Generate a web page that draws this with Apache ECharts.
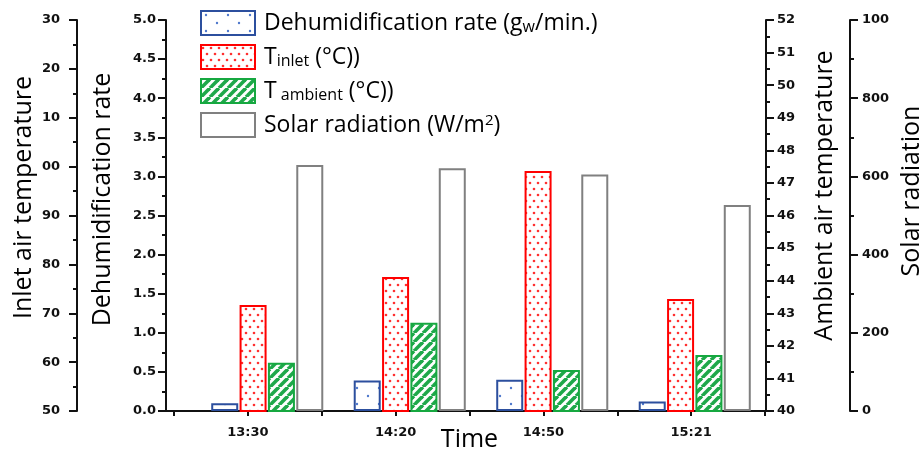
<!DOCTYPE html>
<html>
<head>
<meta charset="utf-8">
<script src="https://cdn.jsdelivr.net/npm/echarts@6/dist/echarts.min.js"></script>
<style>
  html, body { margin: 0; padding: 0; background: #fff; }
  #chart { width: 924px; height: 455px; }
</style>
</head>
<body>
<div id="chart"></div>
<script>
var categories = ['13:30', '14:20', '14:50', '15:21'];
var dehumRate = [0.10, 0.39, 0.40, 0.12];      // g_w/min
var tInlet = [71.7, 77.4, 99.1, 72.9];        // °C
var tAmbient = [41.48, 42.71, 41.26, 41.72];  // °C
var solarRad = [629, 621, 605, 527];          // W/m2

// fill patterns
function dots(w, h, pts, r, col) {
    var c = document.createElement('canvas');
    c.width = w; c.height = h;
    var g = c.getContext('2d');
    g.fillStyle = '#fff';
    g.fillRect(0, 0, w, h);
    g.fillStyle = col;
    pts.forEach(function (p) {
        g.beginPath();
        g.arc(p[0], p[1], r, 0, Math.PI * 2);
        g.fill();
    });
    return c;
}
function stripes(p, col) {
    var c = document.createElement('canvas');
    c.width = p; c.height = p;
    var g = c.getContext('2d');
    g.fillStyle = '#fff';
    g.fillRect(0, 0, p, p);
    g.strokeStyle = col;
    g.lineWidth = 3.6;
    for (var k = -1; k <= 1; k++) {
        g.beginPath();
        g.moveTo(k * p, p);
        g.lineTo(k * p + p, 0);
        g.stroke();
    }
    return c;
}
var bluePat = dots(22, 16, [[5, 4], [16, 12]], 1.2, '#4f78cc');
var redPat = dots(8, 12, [[2, 3], [6, 9]], 1.3, '#ff3030');
var greenPat = stripes(9, '#1ea84a');

var tickFont = { fontFamily: 'DejaVu Sans', fontWeight: 'bold', fontSize: 13, color: '#111' };
var nameFont = { fontFamily: 'Open Sans', fontSize: 25, color: '#000' };
var axLine = { show: true, onZero: false, lineStyle: { color: '#111', width: 2 } };

function yAx(o) {
    var base = {
        type: 'value',
        gridIndex: 0,
        nameLocation: 'middle',
        nameMoveOverlap: false,
        axisLine: axLine,
        axisTick: { show: true, length: 8, lineStyle: { color: '#111', width: 2 } },
        minorTick: { show: true, splitNumber: 2, length: 4, lineStyle: { color: '#111', width: 2 } },
        splitLine: { show: false },
        axisLabel: Object.assign({ margin: 10 }, tickFont)
    };
    return echarts.util.merge(base, o, true);
}

var legendText = {
    'Dehumidification rate': '{n|Dehumidification rate (g}{s|w}{n|/min.)}',
    'T inlet': '{n|T}{s|inlet}{n| (°C))}',
    'T ambient': '{n|T}{s| ambient}{n| (°C))}',
    'Solar radiation': '{n|Solar radiation (W/m}{p|2}{n|)}'
};

var myChart = echarts.init(document.getElementById('chart'));
var option = {
    animation: false,
    grid: [
        { left: 196, right: 158, top: 20, bottom: 44, outerBoundsMode: 'none' },   // bars
        { left: 174, right: 159, top: 20, bottom: 44, outerBoundsMode: 'none' },   // time ticks + labels
        { left: 165, right: 159, top: 20, bottom: 44, outerBoundsMode: 'none' }    // bottom axis line
    ],
    legend: {
        orient: 'vertical',
        left: 200,
        top: 10,
        padding: 0,
        itemWidth: 54,
        itemHeight: 24,
        itemGap: 8,
        icon: 'rect',
        selectedMode: false,
        formatter: function (name) { return legendText[name]; },
        textStyle: {
            padding: [0, 0, 0, 4],
            rich: {
                n: { fontFamily: 'Open Sans', fontSize: 23, lineHeight: 24, color: '#000' },
                s: { fontFamily: 'Open Sans', fontSize: 16, lineHeight: 8, verticalAlign: 'bottom', color: '#000' },
                p: { fontFamily: 'Open Sans', fontSize: 15, lineHeight: 12, verticalAlign: 'top', color: '#000' }
            }
        }
    },
    xAxis: [
        { type: 'category', gridIndex: 0, data: categories, show: false },
        {
            type: 'value', gridIndex: 1, position: 'bottom', min: 0, max: categories.length, interval: 0.5,
            name: 'Time', nameLocation: 'middle', nameGap: 16, nameMoveOverlap: false, nameTextStyle: nameFont,
            axisLine: { show: false, onZero: false },
            splitLine: { show: false },
            axisTick: { show: true, length: 5, lineStyle: { color: '#111', width: 2 } },
            axisLabel: Object.assign({
                margin: 15,
                formatter: function (v) {
                    var i = v - 0.5;
                    return Number.isInteger(i) ? categories[i] : '';
                }
            }, tickFont)
        },
        {
            type: 'category', gridIndex: 2, data: categories, position: 'bottom',
            axisLine: axLine, axisTick: { show: false }, axisLabel: { show: false }
        }
    ],
    yAxis: [
        yAx({
            name: 'Dehumidification rate', position: 'left', offset: 30,
            min: 0, max: 5, interval: 0.5, nameGap: 51,
            nameTextStyle: Object.assign({ padding: [0, 0, 0, 32] }, nameFont),
            axisLabel: { formatter: function (v) { return v.toFixed(1); } }
        }),
        yAx({
            name: 'Inlet air temperature', position: 'left', offset: 119,
            min: 50, max: 130, interval: 10, nameGap: 41,
            nameTextStyle: Object.assign({ padding: [0, 0, 0, 36] }, nameFont),
            axisLabel: { margin: 17, formatter: function (v) { return String(v).slice(-2); } }
        }),
        yAx({
            name: 'Ambient air temperature', position: 'right', offset: 0,
            min: 40, max: 52, interval: 1, nameGap: 46,
            nameTextStyle: Object.assign({ padding: [0, 0, 0, 40] }, nameFont),
            axisLabel: { margin: 11 }
        }),
        yAx({
            name: 'Solar radiation', position: 'right', offset: 84,
            min: 0, max: 1000, interval: 200, nameGap: 49,
            nameTextStyle: Object.assign({ padding: [0, 0, 0, 49] }, nameFont),
            axisLabel: { margin: 12, formatter: function (v) { return String(v).slice(0, 3); } }
        }),
        { type: 'value', gridIndex: 1, show: false },
        { type: 'value', gridIndex: 2, show: false }
    ],
    series: [
        {
            name: 'Dehumidification rate', type: 'bar', xAxisIndex: 0, yAxisIndex: 0,
            data: dehumRate, barWidth: 27, barGap: '5%',
            itemStyle: { color: { image: bluePat, repeat: 'repeat' }, borderColor: '#2c4f9e', borderWidth: 2 }
        },
        {
            name: 'T inlet', type: 'bar', xAxisIndex: 0, yAxisIndex: 1,
            data: tInlet, barWidth: 27, barGap: '5%',
            itemStyle: { color: { image: redPat, repeat: 'repeat' }, borderColor: '#ff0000', borderWidth: 2 }
        },
        {
            name: 'T ambient', type: 'bar', xAxisIndex: 0, yAxisIndex: 2,
            data: tAmbient, barWidth: 27, barGap: '5%',
            itemStyle: { color: { image: greenPat, repeat: 'repeat' }, borderColor: '#16a840', borderWidth: 2 }
        },
        {
            name: 'Solar radiation', type: 'bar', xAxisIndex: 0, yAxisIndex: 3,
            data: solarRad, barWidth: 27, barGap: '5%',
            itemStyle: { color: '#fff', borderColor: '#808080', borderWidth: 2 }
        }
    ]
};
myChart.setOption(option);
</script>
</body>
</html>
